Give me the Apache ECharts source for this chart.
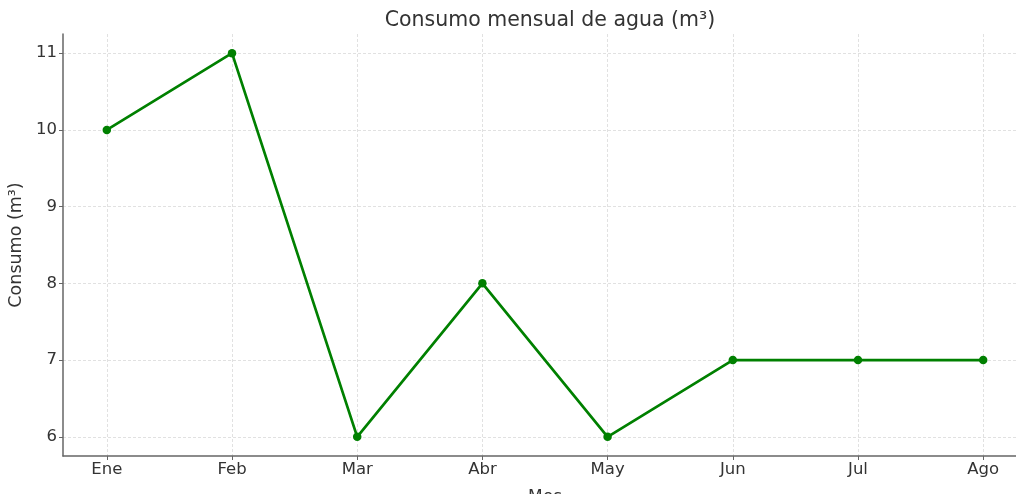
<!DOCTYPE html>
<html><head><meta charset="utf-8">
<script src="https://cdn.jsdelivr.net/npm/echarts@6/dist/echarts.min.js"></script>
<style>html,body{margin:0;padding:0;background:#fff}#c{width:1016px;height:494px}</style>
</head><body><div id="c"></div>
<script>
const months = ['Ene','Feb','Mar','Abr','May','Jun','Jul','Ago'];
const consumo = [10, 11, 6, 8, 6, 7, 7, 7];
const yTicks = [6, 7, 8, 9, 10, 11];
const xTicks = months.map((m, i) => i);

const chart = echarts.init(document.getElementById('c'), null, {renderer: 'canvas'});
const font = 'DejaVu Sans';
const gridLine = {show: true, lineStyle: {color: '#d9d9d9', type: [3, 2], width: 0.8}};
chart.setOption({
  animation: false,
  title: {text: 'Consumo mensual de agua (m³)', left: 545, top: 5, textAlign: 'center',
    textStyle: {fontFamily: font, fontSize: 20.5, fontWeight: 'normal', color: '#333'}},
  grid: {left: 63, width: 964, top: 34, height: 422, outerBoundsMode: 'none', containLabel: false},
  xAxis: {
    type: 'value', min: -0.35, max: 7.35,
    name: 'Mes', nameLocation: 'middle', nameGap: 33,
    nameTextStyle: {fontFamily: font, fontSize: 17, color: '#333'},
    axisLine: {show: true, onZero: false, lineStyle: {color: '#666', width: 1.5}},
    axisTick: {show: true, length: 4, lineStyle: {color: '#666'}, customValues: xTicks},
    axisLabel: {fontFamily: font, fontSize: 16.5, color: '#333', margin: 5, customValues: xTicks,
      formatter: v => months[Math.round(v)]},
    splitLine: gridLine
  },
  yAxis: {
    type: 'value', min: 5.75, max: 11.25,
    name: 'Consumo (m³)', nameLocation: 'middle', nameGap: 34, nameRotate: 90,
    nameTextStyle: {fontFamily: font, fontSize: 17.5, color: '#333'},
    axisLine: {show: true, onZero: false, lineStyle: {color: '#666', width: 1.5}},
    axisTick: {show: true, length: 4, lineStyle: {color: '#666'}, customValues: yTicks},
    axisLabel: {fontFamily: font, fontSize: 16.5, color: '#333', margin: 6, customValues: yTicks},
    splitLine: gridLine
  },
  series: [{
    type: 'line',
    data: consumo.map((v, i) => [i, v]),
    symbol: 'circle', symbolSize: 8.5,
    lineStyle: {color: '#008000', width: 2.7},
    itemStyle: {color: '#008000'}
  }]
});
</script></body></html>
